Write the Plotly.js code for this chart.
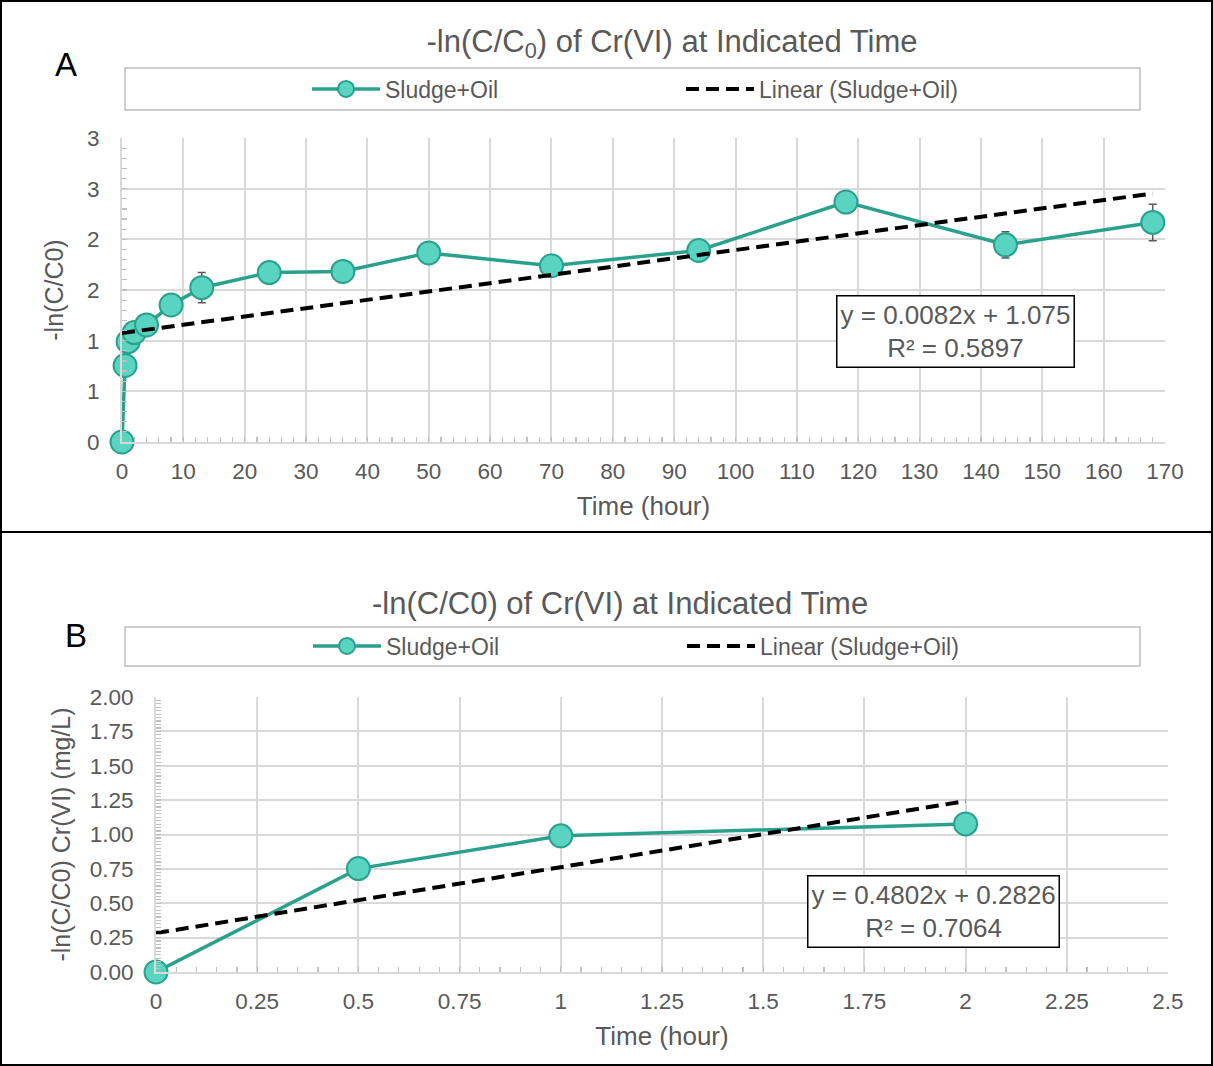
<!DOCTYPE html>
<html><head><meta charset="utf-8">
<script src="https://cdn.plot.ly/plotly-3.0.1.min.js"></script>
<style>html,body{margin:0;padding:0;background:#fff}#chart{width:1213px;height:1066px}</style>
</head><body><div id="chart"></div>
<script>
// ---- Panel A data ----
const timeA = [0, 0.5, 1, 2, 4, 8, 13, 24, 36, 50, 70, 94, 118, 144, 168];
const lnA   = [0, 0.755, 0.99, 1.08, 1.155, 1.352, 1.523, 1.672, 1.683, 1.866, 1.739, 1.89, 2.368, 1.946, 2.167];
const errA  = [0, 0, 0, 0, 0, 0, 0.15, 0, 0, 0, 0, 0, 0, 0.13, 0.18];
const trendA = [0.0082, 1.075];   // slope, intercept
const r2A = 0.5897;
const yTickValsA = [0, 0.5, 1, 1.5, 2, 2.5, 3];
const yTickTextA = ['0', '1', '1', '2', '2', '3', '3'];
const xTickValsA = [0,10,20,30,40,50,60,70,80,90,100,110,120,130,140,150,160,170];
// ---- Panel B data ----
const timeB = [0, 0.5, 1, 2];
const lnB   = [0, 0.752, 0.99, 1.077];
const trendB = [0.4802, 0.2826];
const r2B = 0.7064;
const yTickValsB = [0, 0.25, 0.5, 0.75, 1, 1.25, 1.5, 1.75, 2];
const xTickValsB = [0, 0.25, 0.5, 0.75, 1, 1.25, 1.5, 1.75, 2, 2.25, 2.5];
const seriesName = 'Sludge+Oil';
const trendName = 'Linear (Sludge+Oil)';

const W = 1213, H = 1066;
const fx = x => x / W, fy = y => 1 - y / H;
const FONT = 'Liberation Sans';
const TXT = '#595959', GRID = '#d9d9d9', TICK = '#bfbfbf';
const LINEC = '#2aa18c', FILLC = '#58d4c1';

function trendXY(xs, coef) {
  const x = [xs[0], xs[xs.length - 1]];
  return {x: x, y: x.map(v => coef[0] * v + coef[1])};
}
const tA = trendXY(timeA, trendA), tB = trendXY(timeB, trendB);

const traces = [
  {x: timeA, y: lnA, xaxis: 'x', yaxis: 'y', name: seriesName, legend: 'legend', mode: 'lines+markers', cliponaxis: false,
   line: {color: LINEC, width: 3.5}, marker: {size: 23, color: FILLC, line: {color: LINEC, width: 2}},
   error_y: {type: 'data', array: errA, visible: true, color: TXT, thickness: 1.5, width: 4}},
  {x: tA.x, y: tA.y, xaxis: 'x', yaxis: 'y', name: trendName, legend: 'legend2', mode: 'lines', cliponaxis: false,
   line: {color: '#000', width: 4, dash: '13px,7px'}},
  {x: timeB, y: lnB, xaxis: 'x2', yaxis: 'y2', name: seriesName, legend: 'legend3', mode: 'lines+markers', cliponaxis: false,
   line: {color: LINEC, width: 3.5}, marker: {size: 23, color: FILLC, line: {color: LINEC, width: 2}}},
  {x: tB.x, y: tB.y, xaxis: 'x2', yaxis: 'y2', name: trendName, legend: 'legend4', mode: 'lines', cliponaxis: false,
   line: {color: '#000', width: 4, dash: '13px,7px'}}
];

function axis(extra) {
  return Object.assign({
    showgrid: true, gridcolor: GRID, gridwidth: 2, showline: true, linecolor: GRID, linewidth: 2,
    zeroline: false, ticks: 'inside', ticklen: 5, tickcolor: TICK, tickwidth: 1.3,
    tickfont: {family: FONT, size: 22.5, color: TXT}, fixedrange: true, automargin: false
  }, extra);
}
function leg(x, y) {
  return {x: x, y: y, xanchor: 'left', yanchor: 'middle', orientation: 'h', bgcolor: 'rgba(0,0,0,0)',
          borderwidth: 0, font: {family: FONT, size: 23, color: TXT}, itemwidth: 68, itemclick: false, itemdoubleclick: false};
}
const minorStyle = {ticks: 'inside', ticklen: 5, tickcolor: TICK, tickwidth: 1.2, showgrid: false};

const layout = {
  width: W, height: H, margin: {l: 0, r: 0, t: 0, b: 0}, paper_bgcolor: '#fff', plot_bgcolor: '#fff',
  font: {family: FONT, color: TXT},
  showlegend: true,
  title: {text: '-ln(C/C<sub>0</sub>) of Cr(VI) at Indicated Time', x: fx(672), y: fy(41), xref: 'paper', yref: 'paper',
          xanchor: 'center', yanchor: 'middle', font: {family: FONT, size: 31, color: TXT}},
  xaxis: axis({domain: [fx(122), fx(1165)], range: [0, 170], tickvals: xTickValsA, anchor: 'y', ticklabelstandoff: 8,
    minor: Object.assign({dtick: 2, tick0: 0}, minorStyle),
    title: {text: 'Time (hour)', font: {family: FONT, size: 26, color: TXT}, standoff: 14}}),
  yaxis: axis({domain: [fy(442), fy(138)], range: [0, 3], tickvals: yTickValsA, ticktext: yTickTextA, anchor: 'x', ticklabelstandoff: 16,
    minor: Object.assign({dtick: 0.1, tick0: 0}, minorStyle),
    title: {text: '-ln(C/C0)', font: {family: FONT, size: 25, color: TXT}, standoff: 16}}),
  xaxis2: axis({domain: [fx(156), fx(1168)], range: [0, 2.5], tickvals: xTickValsB, anchor: 'y2', ticklabelstandoff: 8,
    minor: Object.assign({dtick: 0.05, tick0: 0}, minorStyle),
    title: {text: 'Time (hour)', font: {family: FONT, size: 26, color: TXT}, standoff: 14}}),
  yaxis2: axis({domain: [fy(972), fy(697)], range: [0, 2], tickvals: yTickValsB, tickformat: '.2f', anchor: 'x2', ticklabelstandoff: 16,
    minor: Object.assign({dtick: 0.025, tick0: 0}, minorStyle),
    title: {text: '-ln(C/C0) Cr(VI) (mg/L)', font: {family: FONT, size: 25, color: TXT}, standoff: 12}}),
  legend: leg(fx(307), fy(89)),
  legend2: leg(fx(681), fy(89)),
  legend3: leg(fx(308), fy(646)),
  legend4: leg(fx(682), fy(646)),
  shapes: [
    {type: 'rect', xref: 'paper', yref: 'paper', x0: fx(125), x1: fx(1140), y0: fy(110), y1: fy(68), line: {color: TICK, width: 1.5}, layer: 'below'},
    {type: 'rect', xref: 'paper', yref: 'paper', x0: fx(125), x1: fx(1140), y0: fy(666), y1: fy(627), line: {color: TICK, width: 1.5}, layer: 'below'},
    {type: 'rect', xref: 'paper', yref: 'paper', x0: fx(1), x1: fx(1212), y0: fy(1065), y1: fy(1), line: {color: '#000', width: 2}},
    {type: 'line', xref: 'paper', yref: 'paper', x0: 0, x1: 1, y0: fy(532), y1: fy(532), line: {color: '#000', width: 2}}
  ],
  annotations: [
    {text: '-ln(C/C0) of Cr(VI) at Indicated Time', xref: 'paper', yref: 'paper', x: fx(620), y: fy(603),
     xanchor: 'center', yanchor: 'middle', showarrow: false, font: {family: FONT, size: 31, color: TXT}},
    {text: 'A', xref: 'paper', yref: 'paper', x: fx(66), y: fy(64), xanchor: 'center', yanchor: 'middle', showarrow: false,
     font: {family: FONT, size: 33, color: '#000'}},
    {text: 'B', xref: 'paper', yref: 'paper', x: fx(76), y: fy(635), xanchor: 'center', yanchor: 'middle', showarrow: false,
     font: {family: FONT, size: 33, color: '#000'}},
    {text: 'y = ' + trendA[0] + 'x + ' + trendA[1] + '<br>R² = ' + r2A, xref: 'paper', yref: 'paper', x: fx(955), y: fy(331),
     xanchor: 'center', yanchor: 'middle', showarrow: false, bgcolor: '#fff', bordercolor: '#000', borderwidth: 1.5, borderpad: 3,
     font: {family: FONT, size: 26, color: TXT}},
    {text: 'y = ' + trendB[0] + 'x + ' + trendB[1] + '<br>R² = ' + r2B, xref: 'paper', yref: 'paper', x: fx(933), y: fy(911),
     xanchor: 'center', yanchor: 'middle', showarrow: false, bgcolor: '#fff', bordercolor: '#000', borderwidth: 1.5, borderpad: 3,
     font: {family: FONT, size: 26, color: TXT}}
  ]
};

Plotly.newPlot('chart', traces, layout, {displayModeBar: false, staticPlot: true});
</script>
</body></html>
